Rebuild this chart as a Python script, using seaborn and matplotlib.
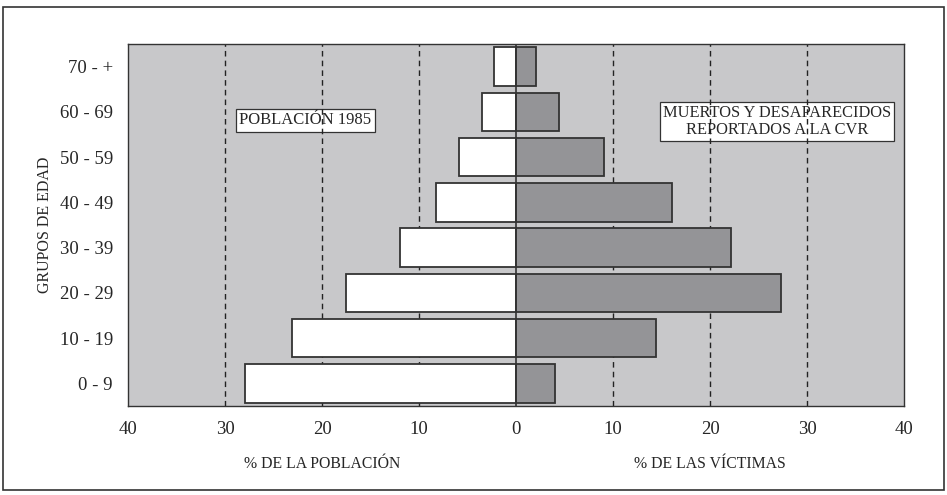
import pandas as pd
import matplotlib.pyplot as plt
import matplotlib.patches as mpatches
import seaborn as sns

# Data
age_groups = ["70 - +", "60 - 69", "50 - 59", "40 - 49", "30 - 39", "20 - 29", "10 - 19", "0 - 9"]
poblacion_1985 = [2.3, 3.5, 5.9, 8.2, 12.0, 17.5, 23.1, 27.9]
victimas_cvr = [2.1, 4.4, 9.1, 16.1, 22.2, 27.3, 14.4, 4.0]
x_ticks = [-40, -30, -20, -10, 0, 10, 20, 30, 40]
x_tick_labels = ["40", "30", "20", "10", "0", "10", "20", "30", "40"]
grid_values = [-30, -20, -10, 10, 20, 30]

df = pd.concat([
    pd.DataFrame({"grupo": age_groups, "valor": [-v for v in poblacion_1985], "serie": "POBLACIÓN 1985"}),
    pd.DataFrame({"grupo": age_groups, "valor": victimas_cvr, "serie": "VICTIMAS"}),
])

sns.set_style("white")
plt.rcParams["font.family"] = ["Liberation Serif", "DejaVu Serif"]

fig = plt.figure(figsize=(9.47, 4.95), dpi=100)
ax = fig.add_axes([0.1352, 0.180, 0.8194, 0.731])
ax.set_facecolor("#c8c8ca")

sns.barplot(data=df, x="valor", y="grupo", hue="serie", order=age_groups,
            palette={"POBLACIÓN 1985": "white", "VICTIMAS": "#949497"},
            dodge=False, width=0.85, orient="h", edgecolor="#333333",
            linewidth=1.3, legend=False, ax=ax, zorder=3)

# dashed vertical grid lines
for g in grid_values:
    ax.axvline(g, color="#222222", linestyle=(0, (4, 3)), linewidth=1.0, zorder=2)
ax.axvline(0, color="#333333", linewidth=1.2, zorder=4)

ax.set_xlim(-40, 40)
ax.set_xticks(x_ticks)
ax.set_xticklabels(x_tick_labels, fontsize=13.5)
ax.set_xticks([-40, 0, 40], minor=True)
ax.tick_params(axis="x", which="major", length=0, pad=11)
ax.tick_params(axis="x", which="minor", length=9, width=1.0, color="#333333", direction="out")
ax.tick_params(axis="y", length=0, pad=11, labelsize=13.5)
for s in ax.spines.values():
    s.set_color("#333333")
    s.set_linewidth(1.0)

ax.set_xlabel("")
ax.set_ylabel("GRUPOS DE EDAD", fontsize=11.5, labelpad=5)

# axis captions under each half
ax.text(-20, -0.16, "% DE LA POBLACIÓN", transform=ax.get_xaxis_transform(),
        ha="center", va="center", fontsize=11.3)
ax.text(20, -0.16, "% DE LAS VÍCTIMAS", transform=ax.get_xaxis_transform(),
        ha="center", va="center", fontsize=11.3)

# boxed labels
box = dict(boxstyle="square,pad=0.2", facecolor="white", edgecolor="#333333", linewidth=0.9)
ax.text(-21.7, 1.19, "POBLACIÓN 1985", ha="center", va="center", fontsize=12, bbox=box, zorder=1.5)
ax.text(26.9, 1.21, "MUERTOS Y DESAPARECIDOS\nREPORTADOS A LA CVR", ha="center", va="center",
        fontsize=11.8, linespacing=1.05, bbox=box, zorder=1.5)

# frame around whole figure
fig.patches.append(mpatches.Rectangle((0.003, 0.01), 0.994, 0.976, transform=fig.transFigure,
                                      fill=False, edgecolor="#333333", linewidth=1.2))

fig.savefig("out.png", dpi=100)
